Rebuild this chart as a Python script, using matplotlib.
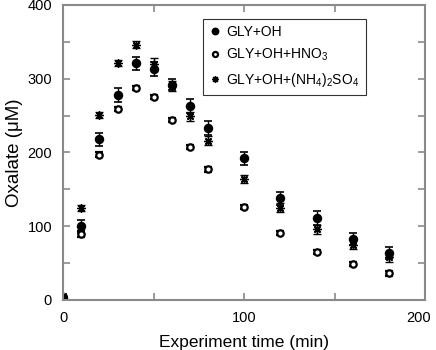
import matplotlib.pyplot as plt
from matplotlib.transforms import ScaledTranslation

plt.rcParams['font.family'] = ['Liberation Sans', 'DejaVu Sans']
plt.rcParams['mathtext.default'] = 'regular'

time = [0, 10, 20, 30, 40, 50, 60, 70, 80, 100, 120, 140, 160, 180]

gly_oh = [3, 100, 218, 278, 321, 313, 292, 263, 233, 192, 138, 111, 83, 64]
gly_oh_err = [3, 9, 9, 9, 9, 9, 8, 9, 9, 9, 9, 9, 8, 8]

gly_hno3 = [3, 90, 197, 259, 287, 275, 244, 207, 177, 126, 91, 65, 49, 36]
gly_hno3_err = [2, 4, 3, 3, 3, 3, 3, 3, 3, 3, 3, 3, 3, 3]

gly_nh4 = [5, 125, 251, 321, 346, 320, 290, 249, 216, 164, 125, 96, 75, 58]
gly_nh4_err = [2, 4, 4, 4, 5, 8, 7, 6, 6, 6, 6, 6, 6, 6]

grey = '#8a8a8a'

fig = plt.figure(figsize=(4.36, 3.5), dpi=100)
ax = fig.add_axes([0.145, 0.143, 0.83, 0.843])

common = dict(linestyle='none', ecolor='black', elinewidth=1.0, capsize=3.2,
              capthick=1.2)
c1 = ax.errorbar(time, gly_oh, yerr=gly_oh_err, marker='o', color='black',
                 markersize=5.8, **common)
c2 = ax.errorbar(time, gly_hno3, yerr=gly_hno3_err, marker='o', color='black',
                 markerfacecolor='white', markeredgewidth=1.6, markersize=4.6,
                 **common)
c3 = ax.errorbar(time, gly_nh4, yerr=gly_nh4_err, marker=(8, 2, 0),
                 color='black', markeredgewidth=1.0, markersize=6, **common)

ax.set_xlim(0, 200)
ax.set_ylim(0, 400)
ax.set_xticks([0, 100, 200])
ax.set_xticks([50, 150], minor=True)
ax.set_yticks([0, 100, 200, 300, 400])
ax.set_yticks([50, 150, 250, 350], minor=True)
ax.tick_params(which='both', direction='in', top=True, right=True,
               color=grey, width=1.2, length=5, labelsize=10.5)
ax.tick_params(axis='x', which='both', pad=8)
ax.tick_params(axis='y', which='both', pad=8)
for s in ax.spines.values():
    s.set_color(grey)
    s.set_linewidth(1.5)

# last x label sits slightly left so it stays inside the figure
last = ax.get_xticklabels()[-1]
last.set_transform(last.get_transform() +
                   ScaledTranslation(-0.07, 0, fig.dpi_scale_trans))

ax.set_xlabel('Experiment time (min)', fontsize=12.5, labelpad=7)
ax.set_ylabel('Oxalate (\u03bcM)', fontsize=13.5, labelpad=3)

labels = ['GLY+OH', 'GLY+OH+HNO$_3$', 'GLY+OH+(NH$_4$)$_2$SO$_4$']
leg = ax.legend([c1[0], c2[0], c3[0]], labels, loc='upper left',
                bbox_to_anchor=(0.387, 0.952), fontsize=10, markerscale=0.8,
                frameon=True, fancybox=False, edgecolor='black',
                handlelength=0.8, handletextpad=0.4, borderpad=0.45,
                labelspacing=0.55, borderaxespad=0)
leg.get_frame().set_linewidth(0.8)

fig.savefig('out.png', dpi=100)
